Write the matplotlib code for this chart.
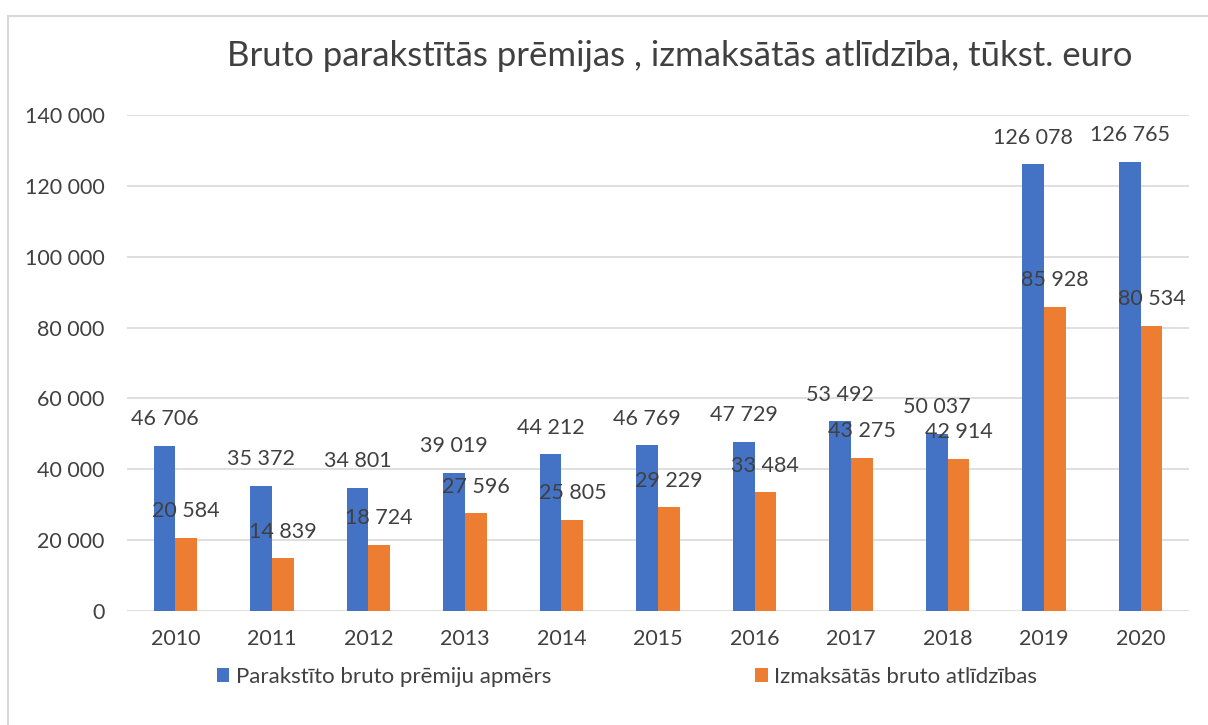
import numpy as np
import matplotlib.pyplot as plt
from matplotlib.patches import Rectangle

years = ['2010', '2011', '2012', '2013', '2014', '2015', '2016', '2017', '2018', '2019', '2020']
premijas = [46706, 35372, 34801, 39019, 44212, 46769, 47729, 53492, 50037, 126078, 126765]
atlidzibas = [20584, 14839, 18724, 27596, 25805, 29229, 33484, 43275, 42914, 85928, 80534]
series_names = ['Parakstīto bruto prēmiju apmērs', 'Izmaksātās bruto atlīdzības']
title = 'Bruto parakstītās prēmijas , izmaksātās atlīdzība, tūkst. euro'

plt.rcParams['font.family'] = ['Lato', 'DejaVu Sans']
txt = '#404040'
blue = '#4472C4'
orange = '#ED7D31'

fig = plt.figure(figsize=(12.08, 7.25), dpi=100)
# chart border (extends past right/bottom edge like the screenshot)
fig.patches.append(Rectangle((8 / 1208, -0.1), 1.2, 1 - 16 / 725 + 0.1, transform=fig.transFigure,
                             fill=False, edgecolor='#D9D9D9', linewidth=1.5))

ax = fig.add_axes([127 / 1208, 1 - 611 / 725, (1189 - 127) / 1208, (611 - 115) / 725])

x = np.arange(len(years))
w = 0.225
b1 = ax.bar(x - w / 2, premijas, w, color=blue, label=series_names[0])
b2 = ax.bar(x + w / 2, atlidzibas, w, color=orange, label=series_names[1])

def fmt(v):
    return f'{v:,}'.replace(',', ' ')

for bars in (b1, b2):
    for r in bars:
        v = r.get_height()
        ax.annotate(fmt(int(v)), (r.get_x() + r.get_width() / 2, v), xytext=(0, 12),
                    textcoords='offset points', ha='center', va='bottom', fontsize=15.5, color=txt)

ax.set_xlim(-0.5, len(years) - 0.5)
ax.set_ylim(0, 140000)
ax.set_yticks(np.arange(0, 140001, 20000))
ax.set_yticklabels([fmt(v) for v in range(0, 140001, 20000)])
ax.set_xticks(x)
ax.set_xticklabels(years)
ax.tick_params(axis='both', length=0, labelsize=15.5, labelcolor=txt)
ax.tick_params(axis='y', pad=16)
ax.tick_params(axis='x', pad=13)
ax.grid(axis='y', color='#D9D9D9', linewidth=1.2)
ax.set_axisbelow(True)
for s in ax.spines.values():
    s.set_visible(False)

fig.text(680 / 1208, 1 - 56 / 725, title, ha='center', va='center', fontsize=25, color=txt)

fig.legend(loc='center', bbox_to_anchor=(627 / 1208, 1 - 677 / 725), ncol=2, frameon=False,
           fontsize=16, labelcolor=txt, handlelength=0.55, handleheight=0.55,
           handletextpad=0.3, columnspacing=9.2)

fig.savefig('out.png', dpi=100)
